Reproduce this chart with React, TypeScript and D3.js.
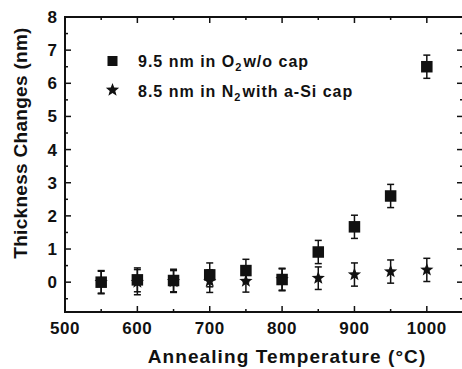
import React from "react";
import * as d3 from "d3";

const temps = [550, 600, 650, 700, 750, 800, 850, 900, 950, 1000];
const o2Values = [0.0, 0.07, 0.05, 0.22, 0.35, 0.08, 0.91, 1.67, 2.6, 6.5];
const o2Errors = [0.35, 0.36, 0.34, 0.36, 0.34, 0.34, 0.35, 0.35, 0.35, 0.35];
const n2Values = [0.0, 0.0, 0.02, 0.03, 0.03, 0.08, 0.12, 0.23, 0.32, 0.37];
const n2Errors = [0.33, 0.38, 0.33, 0.34, 0.33, 0.32, 0.34, 0.35, 0.35, 0.35];
const xTicks = [500, 600, 700, 800, 900, 1000];
const xMinor = [550, 650, 750, 850, 950, 1050];
const yTicks = [0, 1, 2, 3, 4, 5, 6, 7, 8];
const yMinor = [-0.5, 0.5, 1.5, 2.5, 3.5, 4.5, 5.5, 6.5, 7.5];

const W = 462;
const H = 369;
const L = 65, R = 463, T = 17, B = 312;

const font = "'Liberation Sans', Arial, Helvetica, sans-serif";

function starPath(cx: number, cy: number, r: number) {
  const pts: string[] = [];
  const ri = r * 0.42;
  for (let i = 0; i < 10; i++) {
    const a = -Math.PI / 2 + (i * Math.PI) / 5;
    const rr = i % 2 === 0 ? r : ri;
    pts.push(`${cx + rr * Math.cos(a)},${cy + rr * Math.sin(a)}`);
  }
  return "M" + pts.join("L") + "Z";
}

export default function App() {
  const x = d3.scaleLinear().domain([500, 1050]).range([L, R]);
  const y = d3.scaleLinear().domain([-0.9, 8]).range([B, T]);
  const sq = 11.5;
  const cap = 3.5;

  const errBar = (xv: number, v: number, e: number, key: string) => {
    const px = x(xv);
    const y1 = y(v + e);
    const y2 = y(v - e);
    return (
      <g key={key} stroke="#111" strokeWidth={1.5}>
        <line x1={px} x2={px} y1={y1} y2={y2} />
        <line x1={px - cap} x2={px + cap} y1={y1} y2={y1} />
        <line x1={px - cap} x2={px + cap} y1={y2} y2={y2} />
      </g>
    );
  };

  return (
    <svg width={W} height={H} style={{ position: "absolute", left: 0, top: 0 }}>
      <rect x={0} y={0} width={W} height={H} fill="#fff" />
      {/* frame */}
      <rect x={L} y={T} width={R - L} height={B - T} fill="none" stroke="#111" strokeWidth={2} />
      {/* x ticks */}
      {xTicks.map((t) => (
        <g key={"xt" + t} stroke="#111" strokeWidth={1.5}>
          <line x1={x(t)} x2={x(t)} y1={B} y2={B - 6} />
          <line x1={x(t)} x2={x(t)} y1={T} y2={T + 6} />
        </g>
      ))}
      {xMinor.map((t) => (
        <g key={"xm" + t} stroke="#111" strokeWidth={1.5}>
          <line x1={x(t)} x2={x(t)} y1={B} y2={B - 3} />
          <line x1={x(t)} x2={x(t)} y1={T} y2={T + 3} />
        </g>
      ))}
      {yTicks.map((t) => (
        <g key={"yt" + t} stroke="#111" strokeWidth={1.5}>
          <line x1={L} x2={L + 6} y1={y(t)} y2={y(t)} />
          <line x1={R} x2={R - 6} y1={y(t)} y2={y(t)} />
        </g>
      ))}
      {yMinor.map((t) => (
        <g key={"ym" + t} stroke="#111" strokeWidth={1.5}>
          <line x1={L} x2={L + 3} y1={y(t)} y2={y(t)} />
          <line x1={R} x2={R - 3} y1={y(t)} y2={y(t)} />
        </g>
      ))}
      {/* tick labels */}
      {xTicks.map((t) => (
        <text key={"xl" + t} x={x(t)} y={334} textAnchor="middle" fontFamily={font} fontWeight="bold" fontSize={17} letterSpacing={0.6} fill="#111">
          {t}
        </text>
      ))}
      {yTicks.map((t) => (
        <text key={"yl" + t} x={57} y={y(t) + 6} textAnchor="end" fontFamily={font} fontWeight="bold" fontSize={17} fill="#111">
          {t}
        </text>
      ))}
      {/* axis titles */}
      <text x={287} y={363} textAnchor="middle" fontFamily={font} fontWeight="bold" fontSize={19} letterSpacing={1.1} fill="#111">
        Annealing Temperature (°C)
      </text>
      <text transform={`translate(27,${143}) rotate(-90)`} textAnchor="middle" fontFamily={font} fontWeight="bold" fontSize={19} letterSpacing={0.3} fill="#111">
        Thickness Changes (nm)
      </text>
      {/* N2 series (stars) */}
      {temps.map((t, i) => errBar(t, n2Values[i], n2Errors[i], "ne" + i))}
      {temps.map((t, i) => (
        <path key={"ns" + i} d={starPath(x(t), y(n2Values[i]), 7)} fill="#111" />
      ))}
      {/* O2 series (squares) */}
      {temps.map((t, i) => errBar(t, o2Values[i], o2Errors[i], "oe" + i))}
      {temps.map((t, i) => (
        <rect key={"os" + i} x={x(t) - sq / 2} y={y(o2Values[i]) - sq / 2} width={sq} height={sq} fill="#111" />
      ))}
      {/* legend */}
      <rect x={112.5 - 5} y={61 - 5} width={10} height={10} fill="#111" />
      <text x={138} y={67} fontFamily={font} fontWeight="bold" fontSize={16} letterSpacing={1} fill="#111">
        9.5 nm in O<tspan dy={4} fontSize={11}>2</tspan><tspan dy={-4} dx={1}>w/o cap</tspan>
      </text>
      <path d={starPath(112.5, 90, 7)} fill="#111" />
      <text x={138} y={97} fontFamily={font} fontWeight="bold" fontSize={16} letterSpacing={1} fill="#111">
        8.5 nm in N<tspan dy={4} fontSize={11}>2</tspan><tspan dy={-4} dx={1}>with a-Si cap</tspan>
      </text>
    </svg>
  );
}
